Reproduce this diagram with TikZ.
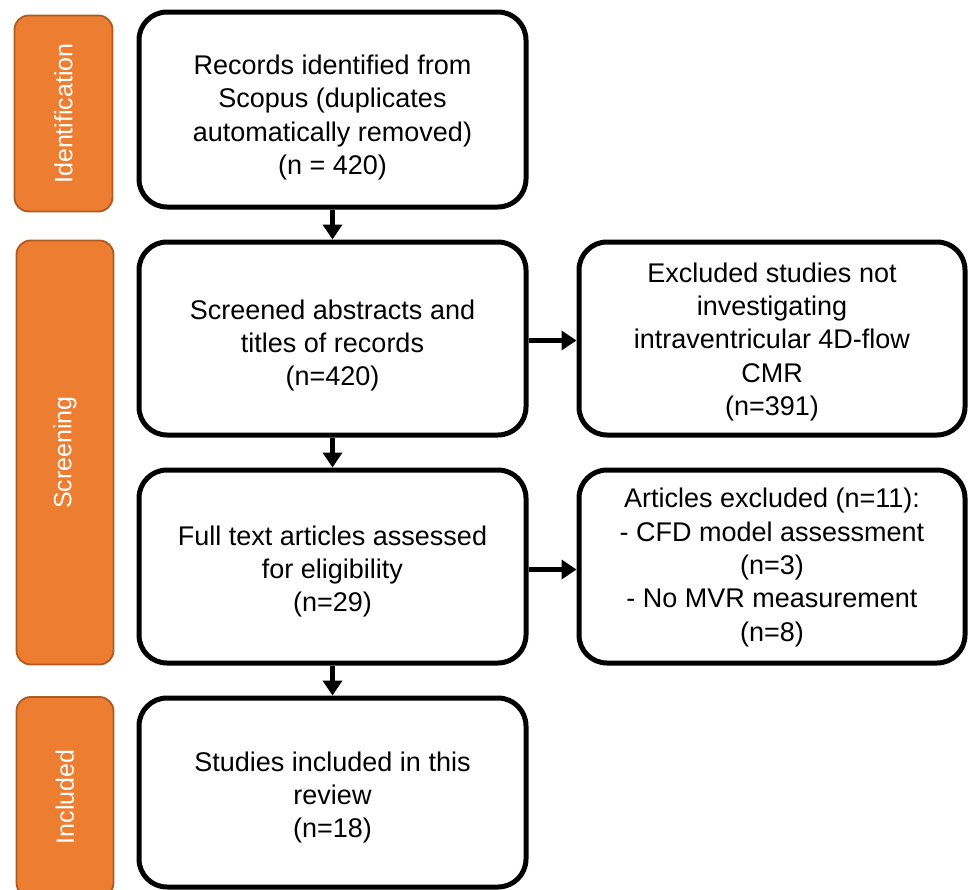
\documentclass[tikz,border=0pt]{standalone}
\usepackage{fontspec}
\setmainfont{Liberation Sans}
\usetikzlibrary{arrows.meta}
\definecolor{orfill}{HTML}{ED7D31}
\definecolor{ordraw}{HTML}{AE5A21}
\tikzset{
  mainbox/.style={draw=black, line width=5pt, rounded corners=28pt, inner sep=0pt},
  maintext/.style={align=center, font=\fontsize{27}{33.3}\selectfont, inner sep=0pt},
  phase/.style={draw=ordraw, fill=orfill, line width=1.8pt, rounded corners=14pt, inner sep=0pt},
  phasetext/.style={text=white, rotate=90, font=\fontsize{25}{30}\selectfont, inner sep=0pt},
  flow/.style={line width=4.5pt, -{Triangle[width=19pt,length=15pt]}}
}
\begin{document}
\begin{tikzpicture}[x=1pt,y=-1pt]
\useasboundingbox (0,0) rectangle (968,889);
% phase labels
\node[phase, minimum width=98pt, minimum height=196pt] (pid) at (63.5,113.5) {};
\node[phasetext] (tid) at (pid.center) {Identification};
\node[phase, minimum width=97pt, minimum height=424pt] (psc) at (65,452.5) {};
\node[phasetext] (tsc) at (psc.center) {Screening};
\node[phase, minimum width=97pt, minimum height=200pt] (pin) at (65,797) {};
\node[phasetext] (tin) at (pin.center) {Included};
% main boxes
\node[mainbox, minimum width=387pt, minimum height=195pt] (b1) at (332.5,109.5) {};
\node[maintext] (t1) at (332.5,117.5)
  {Records identified from\\Scopus (duplicates\\automatically removed)\\(n = 420)};
\node[mainbox, minimum width=387pt, minimum height=193pt] (b2) at (332.5,338.5) {};
\node[maintext] (t2) at (332.5,345.5)
  {Screened abstracts and\\titles of records\\(n=420)};
\node[mainbox, minimum width=387pt, minimum height=193pt] (b3) at (332.5,566.5) {};
\node[maintext] (t3) at (332.5,571.5)
  {Full text articles assessed\\for eligibility\\(n=29)};
\node[mainbox, minimum width=387pt, minimum height=189pt] (b4) at (332.5,792.5) {};
\node[maintext] (t4) at (332.5,797.5)
  {Studies included in this\\review\\(n=18)};
\node[mainbox, minimum width=386pt, minimum height=193pt] (r2) at (772,338.5) {};
\node[maintext] (tr2) at (772,342)
  {Excluded studies not\\investigating\\intraventricular 4D-flow\\CMR\\(n=391)};
\node[mainbox, minimum width=386pt, minimum height=193pt] (r3) at (772,566.5) {};
\node[maintext] (tr3) at (772,567.5)
  {Articles excluded (n=11):\\- CFD model assessment\\(n=3)\\- No MVR measurement\\(n=8)};
% connectors
\draw[flow] (b1) -- (b2);
\draw[flow] (b2) -- (b3);
\draw[flow] (b3) -- (b4);
\draw[flow] ([yshift=-2pt]b2.east) -- ([yshift=-2pt]r2.west);
\draw[flow] ([yshift=-3pt]b3.east) -- ([yshift=-3pt]r3.west);
\end{tikzpicture}
\end{document}
